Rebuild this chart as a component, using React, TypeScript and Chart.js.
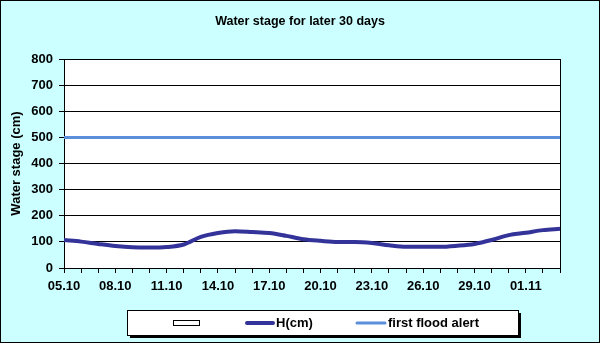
import React, { useEffect, useRef } from 'react';
import { Chart, registerables } from 'chart.js';

Chart.register(...registerables);

const chartTitle = 'Water stage for later 30 days';
const yAxisTitle = 'Water stage (cm)';

const dates = [
  '05.10', '06.10', '07.10', '08.10', '09.10', '10.10', '11.10', '12.10', '13.10', '14.10',
  '15.10', '16.10', '17.10', '18.10', '19.10', '20.10', '21.10', '22.10', '23.10', '24.10',
  '25.10', '26.10', '27.10', '28.10', '29.10', '30.10', '31.10', '01.11', '02.11', '03.11',
];

const waterLevel = [
  107, 101, 92, 84, 79, 78, 80, 90, 119, 134,
  141, 138, 134, 123, 110, 104, 100, 100, 96, 87,
  81, 81, 81, 85, 92, 107, 126, 135, 145, 150,
];

const floodAlert = [
  500, 500, 500, 500, 500, 500, 500, 500, 500, 500,
  500, 500, 500, 500, 500, 500, 500, 500, 500, 500,
  500, 500, 500, 500, 500, 500, 500, 500, 500, 500,
];

const seriesLabels = ['', 'H(cm)', 'first flood alert'];
const seriesColors = ['#ffffff', '#333399', '#5b8fd9'];

const FONT = '"Liberation Sans", Arial, sans-serif';

const decorPlugin = {
  id: 'decor',
  beforeDraw(chart: any) {
    const { ctx, width, height, chartArea } = chart;
    ctx.save();
    ctx.fillStyle = '#ccffff';
    ctx.fillRect(0, 0, width, height);
    ctx.strokeStyle = '#000';
    ctx.lineWidth = 1;
    ctx.strokeRect(0.5, 0.5, width - 1, height - 1);
    ctx.fillStyle = '#ffffff';
    ctx.fillRect(chartArea.left, chartArea.top, chartArea.right - chartArea.left, chartArea.bottom - chartArea.top);
    // title
    ctx.fillStyle = '#000';
    ctx.font = `bold 12.5px ${FONT}`;
    ctx.textAlign = 'center';
    ctx.textBaseline = 'middle';
    ctx.fillText(chartTitle, 300, 22);
    ctx.restore();
  },
  beforeDatasetsDraw(chart: any) {
    const { ctx, chartArea } = chart;
    ctx.save();
    ctx.strokeStyle = '#000';
    ctx.lineWidth = 1;
    ctx.beginPath();
    const x = Math.round(chartArea.right) + 0.5;
    ctx.moveTo(x, chartArea.top);
    ctx.lineTo(x, chartArea.bottom);
    ctx.stroke();
    ctx.restore();
  },
  afterDraw(chart: any) {
    const { ctx } = chart;
    ctx.save();
    const bx = 127, by = 310, bw = 391, bh = 25;
    ctx.fillStyle = '#000';
    ctx.fillRect(bx + 3, by + 3, bw, bh);
    ctx.fillStyle = '#fff';
    ctx.fillRect(bx, by, bw, bh);
    ctx.strokeStyle = '#000';
    ctx.lineWidth = 1;
    ctx.strokeRect(bx + 0.5, by + 0.5, bw, bh);
    const cy = 323;
    // blank series marker
    ctx.fillStyle = seriesColors[0];
    ctx.fillRect(173, cy - 3, 26, 5);
    ctx.strokeRect(173.5, cy - 2.5, 26, 5);
    // line series
    const items = [
      { x1: 247, x2: 273, tx: 276, lw: 4 },
      { x1: 357, x2: 385, tx: 388, lw: 3 },
    ];
    items.forEach((it, i) => {
      ctx.strokeStyle = seriesColors[i + 1];
      ctx.lineWidth = it.lw;
      ctx.lineCap = 'round';
      ctx.beginPath();
      ctx.moveTo(it.x1, cy);
      ctx.lineTo(it.x2, cy);
      ctx.stroke();
      ctx.fillStyle = '#000';
      ctx.font = `bold 13px ${FONT}`;
      ctx.textAlign = 'left';
      ctx.textBaseline = 'middle';
      ctx.fillText(seriesLabels[i + 1], it.tx, cy);
    });
    ctx.restore();
  },
};

export default function App() {
  const ref = useRef<HTMLCanvasElement | null>(null);

  useEffect(() => {
    document.body.style.margin = '0';
    const canvas = ref.current;
    if (!canvas) return;
    const chart = new Chart(canvas, {
      type: 'line',
      data: {
        labels: dates,
        datasets: [
          {
            label: seriesLabels[1],
            data: waterLevel,
            borderColor: seriesColors[1],
            backgroundColor: seriesColors[1],
            borderWidth: 4,
            pointRadius: 0,
            tension: 0.4,
            cubicInterpolationMode: 'monotone',
            fill: false,
          },
          {
            label: seriesLabels[2],
            data: floodAlert,
            borderColor: seriesColors[2],
            backgroundColor: seriesColors[2],
            borderWidth: 3,
            pointRadius: 0,
            fill: false,
          },
        ],
      },
      options: {
        animation: false,
        responsive: false,
        maintainAspectRatio: false,
        devicePixelRatio: 1,
        layout: { padding: { top: 59, left: 0, right: 40, bottom: 45 } },
        plugins: {
          legend: { display: false },
          title: { display: false },
          tooltip: { enabled: false },
        },
        scales: {
          x: {
            type: 'category',
            offset: false,
            afterFit: (s: any) => { s.height = 30; },
            grid: { drawOnChartArea: false, color: '#000', tickLength: 5, offset: false },
            border: { color: '#000', width: 1 },
            ticks: {
              autoSkip: false,
              maxRotation: 0,
              minRotation: 0,
              padding: 6,
              color: '#000',
              font: { family: FONT, size: 13, weight: 'bold' },
              callback: (_v: any, i: number) => (i % 3 === 0 ? dates[i] : ''),
            },
          },
          y: {
            min: 0,
            max: 800,
            afterFit: (s: any) => { s.width = 64; },
            grid: { color: '#000', tickLength: 5 },
            border: { color: '#000', width: 1 },
            ticks: {
              stepSize: 100,
              padding: 6,
              color: '#000',
              font: { family: FONT, size: 13, weight: 'bold' },
            },
            title: {
              display: true,
              text: yAxisTitle,
              color: '#000',
              font: { family: FONT, size: 13, weight: 'bold' },
              padding: { top: 9, bottom: 0 },
            },
          },
        },
      } as any,
      plugins: [decorPlugin],
    });
    return () => chart.destroy();
  }, []);

  return (
    <div style={{ width: 600, height: 343 }}>
      <canvas ref={ref} width={600} height={343} style={{ display: 'block', width: 600, height: 343 }} />
    </div>
  );
}
